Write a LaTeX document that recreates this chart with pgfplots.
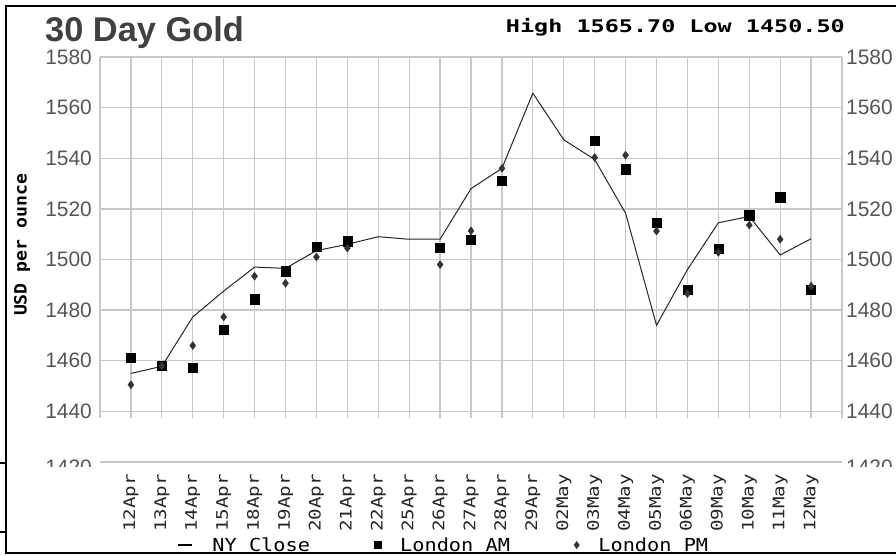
\documentclass[border=0pt]{standalone}
\usepackage{pgfplots}
\pgfplotsset{compat=1.18}
\usepackage{fontspec}
\setmainfont{Liberation Sans}
\newfontfamily\datefont[FakeStretch=1.2]{DejaVu Sans Mono}
\newfontfamily\legfont[FakeStretch=1.13]{DejaVu Sans Mono}
\newfontfamily\lblfont[FakeStretch=1.07]{DejaVu Sans Mono}
\newfontfamily\hdrfont[FakeStretch=1.345]{DejaVu Sans Mono}
\definecolor{gridc}{RGB}{200,200,200}
\definecolor{tickc}{RGB}{85,85,85}
\definecolor{titlec}{RGB}{64,64,64}
\pgfplotsset{
  nylegend/.style={legend image code/.code={\draw[black, line width=2.5bp] (0bp,0bp) -- (14bp,0bp);}},
  marklegend/.style={legend image code/.code={\draw[##1, mark size=3.6bp] plot coordinates {(4bp,0bp)};}},
}

\begin{document}
\begin{tikzpicture}
\path[use as bounding box] (0,0) rectangle (896bp,556bp);

\begin{axis}[
  at={(100bp,94bp)}, anchor=south west,
  scale only axis, width=742bp, height=405bp,
  xmin=-1, xmax=23, ymin=1420, ymax=1580,
  axis line style={draw=none},
  major tick length=0pt,
  clip=false,
  xtick={0,...,22},
  xticklabels={12Apr,13Apr,14Apr,15Apr,18Apr,19Apr,20Apr,21Apr,22Apr,25Apr,26Apr,27Apr,28Apr,29Apr,02May,03May,04May,05May,06May,09May,10May,11May,12May},
  xticklabel style={rotate=90, anchor=east, inner sep=0pt, font=\datefont\fontsize{16}{16}\selectfont, text=black!85},
  xticklabel shift=12bp,
  ytick={1440,1460,1480,1500,1520,1540,1560,1580},
  yticklabels={1440,1460,1480,1500,1520,1540,1560,1580},
  yticklabel style={font=\fontsize{21}{21}\selectfont, text=tickc, inner sep=0pt},
  yticklabel shift=8bp,
  legend style={at={(0.463,-0.205)}, anchor=center, draw=none, fill=none,
    legend columns=3, font=\legfont\fontsize{18}{18}\selectfont,
    /tikz/every odd column/.append style={column sep=17bp},
    /tikz/every even column/.append style={column sep=62bp}},
  legend cell align=left,
]
\pgfplotsinvokeforeach{-1,0,...,23}{\draw[gridc, line width=1.3bp] (axis cs:#1,1437.3) -- (axis cs:#1,1580);}
\pgfplotsinvokeforeach{1440,1460,...,1580}{\draw[gridc, line width=1.3bp] (axis cs:-1,#1) -- (axis cs:23,#1);}
\draw[gridc, line width=1.3bp] (axis cs:-1,1420) -- (axis cs:23,1420);

\addplot[black!85, line width=1bp, mark=none, nylegend]
  coordinates {
  (0,1455.0) (1,1457.8) (2,1477.3) (3,1487.5) (4,1497.0) (5,1496.5)
  (6,1503.5) (7,1506.0) (8,1509.0) (9,1508.0) (10,1508.0) (11,1528.0)
  (12,1536.0) (13,1565.7) (14,1547.3) (15,1539.5) (16,1518.3) (17,1474.0)
  (18,1496.0) (19,1514.5) (20,1517.0) (21,1501.8) (22,1508.2)
  };
\addlegendentry{NY Close}

\addplot[only marks, mark=square*, mark size=4.6bp, black, marklegend]
  coordinates {
  (0,1461.2) (1,1457.9) (2,1457.1) (3,1472.3) (4,1484.3) (5,1495.4)
  (6,1504.9) (7,1507.2) (10,1504.7) (11,1507.9) (12,1531.0)
  (15,1546.9) (16,1535.7) (17,1514.5) (18,1488.2) (19,1504.3)
  (20,1517.5) (21,1524.6) (22,1488.2)
  };
\addlegendentry{London AM}

\addplot[only marks, mark=diamond*, mark size=4bp, black!80, marklegend]
  coordinates {
  (0,1450.5) (1,1458.0) (2,1466.0) (3,1477.3) (4,1493.4) (5,1490.6)
  (6,1501.0) (7,1504.5) (10,1498.0) (11,1511.3) (12,1536.0)
  (15,1540.3) (16,1541.2) (17,1511.2) (18,1486.5) (19,1502.8)
  (20,1513.6) (21,1508.0) (22,1489.5)
  };
\addlegendentry{London PM}
\end{axis}

\begin{axis}[
  at={(100bp,94bp)}, anchor=south west,
  scale only axis, width=742bp, height=405bp,
  xmin=-1, xmax=23, ymin=1420, ymax=1580,
  hide x axis,
  axis line style={draw=none},
  major tick length=0pt,
  yticklabel pos=right,
  ytick={1440,1460,1480,1500,1520,1540,1560,1580},
  yticklabels={1440,1460,1480,1500,1520,1540,1560,1580},
  yticklabel style={font=\fontsize{21}{21}\selectfont, text=tickc, inner sep=0pt},
  yticklabel shift=4bp,
]
\end{axis}

\begin{scope}
\clip (0,89bp) rectangle (896bp,100bp);
\node[anchor=east, inner sep=0pt, text=tickc, font=\fontsize{21}{21}\selectfont] at (92bp,88.5bp) {1420};
\node[anchor=west, inner sep=0pt, text=tickc, font=\fontsize{21}{21}\selectfont] at (846bp,88.5bp) {1420};
\end{scope}

\node[anchor=base west, inner sep=0pt, text=titlec, font=\bfseries\fontsize{34.5}{34.5}\selectfont] at (45bp,514.5bp) {30 Day Gold};
\node[anchor=base east, inner sep=0pt, font=\hdrfont\bfseries\fontsize{17.5}{17.5}\selectfont] at (845bp,523.3bp) {High 1565.70 Low 1450.50};
\node[rotate=90, inner sep=0pt, font=\lblfont\bfseries\fontsize{17}{17}\selectfont] at (22bp,311bp) {USD per ounce};

\draw[black, line width=2bp] (900bp,550bp) -- (6bp,550bp) -- (6bp,3bp) -- (900bp,3bp);
\draw[black, line width=1.5bp] (0bp,93bp) -- (6bp,93bp) (0bp,24bp) -- (6bp,24bp);
\end{tikzpicture}
\end{document}
